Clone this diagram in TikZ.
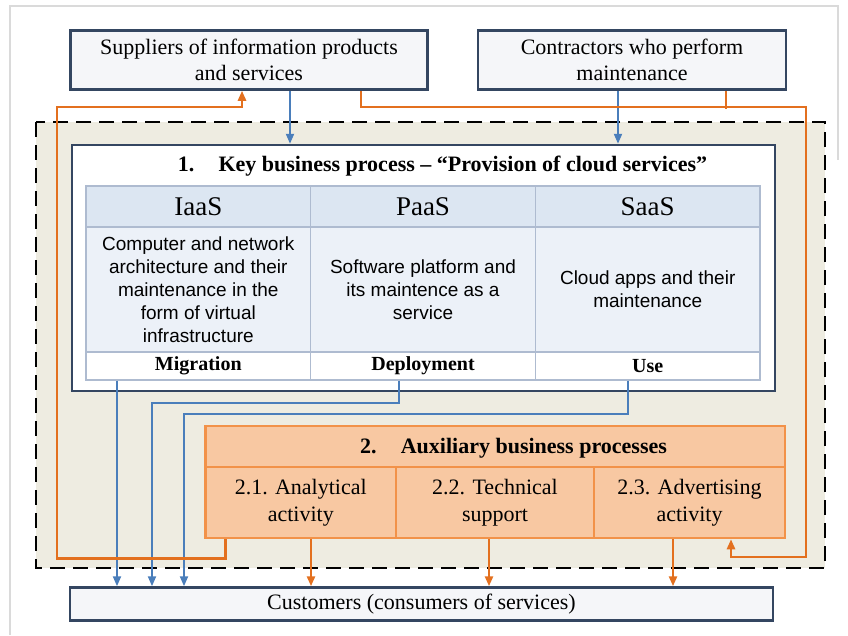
\documentclass[tikz,border=0pt]{standalone}
\usepackage{fontspec}
\setmainfont{Liberation Serif}
\newfontfamily\arialfont{Liberation Sans}
\usetikzlibrary{arrows.meta}
\definecolor{navy}{HTML}{344661}
\definecolor{paper}{HTML}{F5F6F9}
\definecolor{beige}{HTML}{EEECE1}
\definecolor{grid}{HTML}{AEBBD0}
\definecolor{hdblue}{HTML}{DCE6F2}
\definecolor{ctblue}{HTML}{ECF1F8}
\definecolor{auxline}{HTML}{F29249}
\definecolor{auxfill}{HTML}{F8C8A2}
\definecolor{arrblue}{HTML}{4A7EBB}
\definecolor{arrorange}{HTML}{E3701F}
\definecolor{frame}{HTML}{DADADA}

\begin{document}
\begin{tikzpicture}[
  x=1pt, y=-1pt,
  box/.style={draw=navy, line width=2.5pt, fill=paper, inner sep=0pt, align=center,
    font=\fontsize{22}{26}\selectfont},
  hd/.style={draw=grid, line width=1.2pt, fill=hdblue, minimum width=224.7pt,
    minimum height=41pt, inner sep=0pt, font=\fontsize{27}{30}\selectfont},
  ct/.style={draw=grid, line width=1.2pt, fill=ctblue, minimum width=224.7pt,
    minimum height=125pt, inner sep=0pt, align=center,
    font=\arialfont\fontsize{19}{23}\selectfont},
  bt/.style={draw=grid, line width=1.2pt, fill=white, minimum width=224.7pt,
    minimum height=28pt, inner sep=0pt, font=\bfseries\fontsize{20}{24}\selectfont},
  ax/.style={draw=auxline, line width=2.5pt, fill=auxfill, inner sep=0pt, align=center,
    font=\fontsize{22}{27}\selectfont},
  bl/.style={draw=arrblue, line width=2pt, -{Triangle[length=10pt,width=8pt]}},
  og/.style={draw=arrorange, line width=2.5pt}
]
\useasboundingbox (0,0) rectangle (848,635);
\draw[frame, line width=2pt] (10,635) -- (10,6) -- (838,6) -- (838,160);

% Area of the enterprise
\draw[line width=2pt, dash pattern=on 15pt off 8pt, fill=beige] (36,122) rectangle (825,568);

% Suppliers and contractors
\node[box, minimum width=357pt, minimum height=59pt] (sup) at (249,60)
  {Suppliers of information products\\and services};
\node[box, minimum width=308pt, minimum height=59pt] (con) at (632,60)
  {Contractors who perform\\maintenance};

% Key business process
\node[draw=navy, line width=2.5pt, fill=white, minimum width=703pt,
  minimum height=246pt] (key) at (423.5,268) {};
\node[font=\bfseries\fontsize{22}{25}\selectfont] (ttl) at (442.5,166)
  {1.\hspace{1.1em}Key business process – “Provision of cloud services”};

\node[hd] (h1) at (198.3,206.5) {IaaS};
\node[hd] (h2) at (423,206.5) {PaaS};
\node[hd] (h3) at (647.7,206.5) {SaaS};

\node[ct] (c1) at (198.3,289.5) {Computer and network\\architecture and their\\maintenance in the\\form of virtual\\infrastructure};
\node[ct] (c2) at (423,289.5) {Software platform and\\its maintence as a\\service};
\node[ct] (c3) at (647.7,289.5) {Cloud apps and their\\maintenance};

\node[bt] (b1) at (198.3,366) {Migration};
\node[bt] (b2) at (423,366) {Deployment};
\node[bt] (b3) at (647.7,366) {Use};

% Auxiliary business processes
\node[ax, minimum width=579.5pt, minimum height=41pt] (aux) at (495.25,446.5) {};
\node[font=\bfseries\fontsize{22}{25}\selectfont] (atl) at (513.5,448)
  {2.\hspace{1.1em}Auxiliary business processes};
\node[ax, minimum width=190.5pt, minimum height=71pt] (a1) at (300.75,502.5)
  {2.1. Analytical\\activity};
\node[ax, minimum width=198pt, minimum height=71pt] (a2) at (495,502.5)
  {2.2. Technical\\support};
\node[ax, minimum width=191pt, minimum height=71pt] (a3) at (689.5,502.5)
  {2.3. Advertising\\activity};

% Customers
\node[box, minimum width=703pt, minimum height=33pt] (cus) at (421.5,604)
  {Customers (consumers of services)};

% corners of the orange loops
\coordinate (lt) at (57,107);
\coordinate (rt) at (806,107);
\coordinate (rb) at (806,557);

% blue flows
\draw[bl] ([xshift=41pt]sup.south) -- ([xshift=-133.5pt]key.north);
\draw[bl] ([xshift=-14pt]con.south) -- ([xshift=194.5pt]key.north);
\draw[bl] ([xshift=-81.3pt]b1.south) -- ([xshift=-304.5pt]cus.north);
\draw[bl] ([xshift=-24pt]b2.south) -- ++(0,22) -| ([xshift=-269.5pt]cus.north);
\draw[bl] ([xshift=-19.7pt]b3.south) -- ++(0,33) -| ([xshift=-237.5pt]cus.north);

% orange flows
\draw[og, -{Triangle[length=10pt,width=8pt]}] ([xshift=-75.25pt]a1.south) -- ++(0,19)
  -| (lt) -| ([xshift=-7pt]sup.south);
\draw[og, -{Triangle[length=10pt,width=8pt]}] ([xshift=112pt]sup.south) |- (rt)
  -- (rb) -| ([xshift=41.5pt]a3.south);
\draw[og] ([xshift=94pt]con.south) -- ++(0,18);
\draw[og, -{Triangle[length=10pt,width=8pt]}] ([xshift=10.25pt]a1.south) -- ([xshift=-110.5pt]cus.north);
\draw[og, -{Triangle[length=10pt,width=8pt]}] ([xshift=-6pt]a2.south) -- ([xshift=67.5pt]cus.north);
\draw[og, -{Triangle[length=10pt,width=8pt]}] ([xshift=-16.5pt]a3.south) -- ([xshift=251.5pt]cus.north);
\end{tikzpicture}
\end{document}
